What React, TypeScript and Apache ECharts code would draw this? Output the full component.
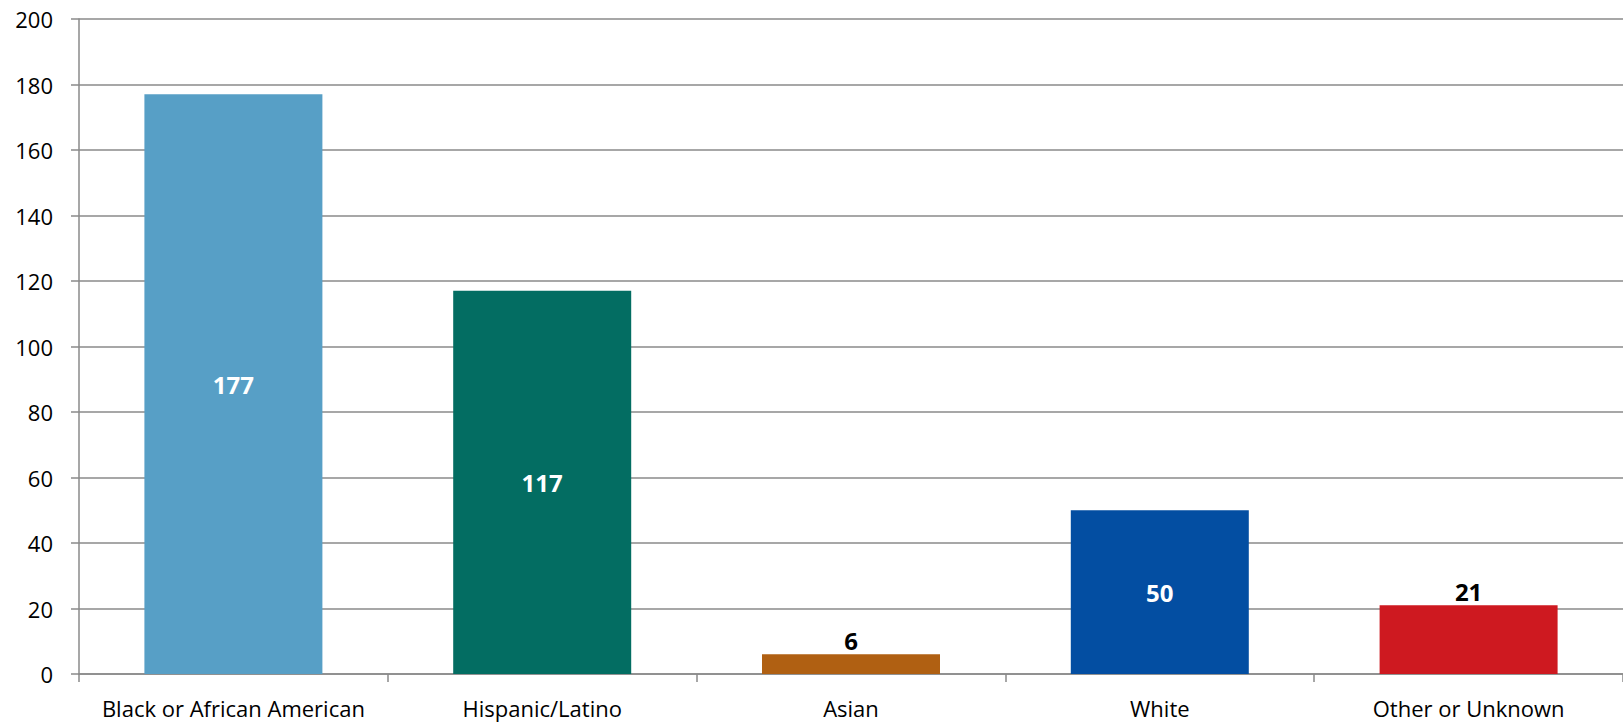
import React, { useEffect, useRef } from "react";
import * as echarts from "echarts";

const categories = [
  "Black or African American",
  "Hispanic/Latino",
  "Asian",
  "White",
  "Other or Unknown",
];
const values = [177, 117, 6, 50, 21];
const barColors = ["#579FC6", "#036D62", "#B06012", "#034EA2", "#CE1920"];
const labelInside = [true, true, false, true, false];
const yTicks = { min: 0, max: 200, interval: 20 };

const FONT = "Open Sans";

export default function App() {
  const ref = useRef<HTMLDivElement>(null);
  useEffect(() => {
    if (!ref.current) return;
    const chart = echarts.init(ref.current, undefined, { renderer: "svg" });
    chart.setOption({
      animation: false,
      grid: { left: 79, right: -12, top: 19, bottom: 48, containLabel: false },
      xAxis: {
        type: "category",
        data: categories,
        axisLine: { show: true, lineStyle: { color: "#8a8a8a", width: 1.5 } },
        axisTick: { show: true, length: 8, lineStyle: { color: "#8a8a8a", width: 1.5 } },
        axisLabel: { color: "#000", fontSize: 22, fontFamily: FONT, margin: 23, interval: 0 },
      },
      yAxis: {
        type: "value",
        min: yTicks.min,
        max: yTicks.max,
        interval: yTicks.interval,
        axisLine: { show: true, lineStyle: { color: "#8a8a8a", width: 1.5 } },
        axisTick: { show: true, length: 8, lineStyle: { color: "#8a8a8a", width: 1.5 } },
        splitLine: { show: true, lineStyle: { color: "#8a8a8a", width: 1.5 } },
        axisLabel: { color: "#000", fontSize: 22, fontFamily: FONT, margin: 26 },
      },
      series: [
        {
          type: "bar",
          barWidth: 178,
          data: values.map((v, i) => ({
            value: v,
            itemStyle: { color: barColors[i] },
            label: {
              show: true,
              position: labelInside[i] ? "inside" : "top",
              distance: 2,
              color: labelInside[i] ? "#fff" : "#000",
              fontWeight: "bold",
              fontSize: 24,
              fontFamily: FONT,
            },
          })),
        },
      ],
    });
    return () => chart.dispose();
  }, []);
  return (
    <div
      ref={ref}
      style={{ position: "fixed", left: 0, top: 0, width: 1623, height: 722, background: "#fff" }}
    />
  );
}
